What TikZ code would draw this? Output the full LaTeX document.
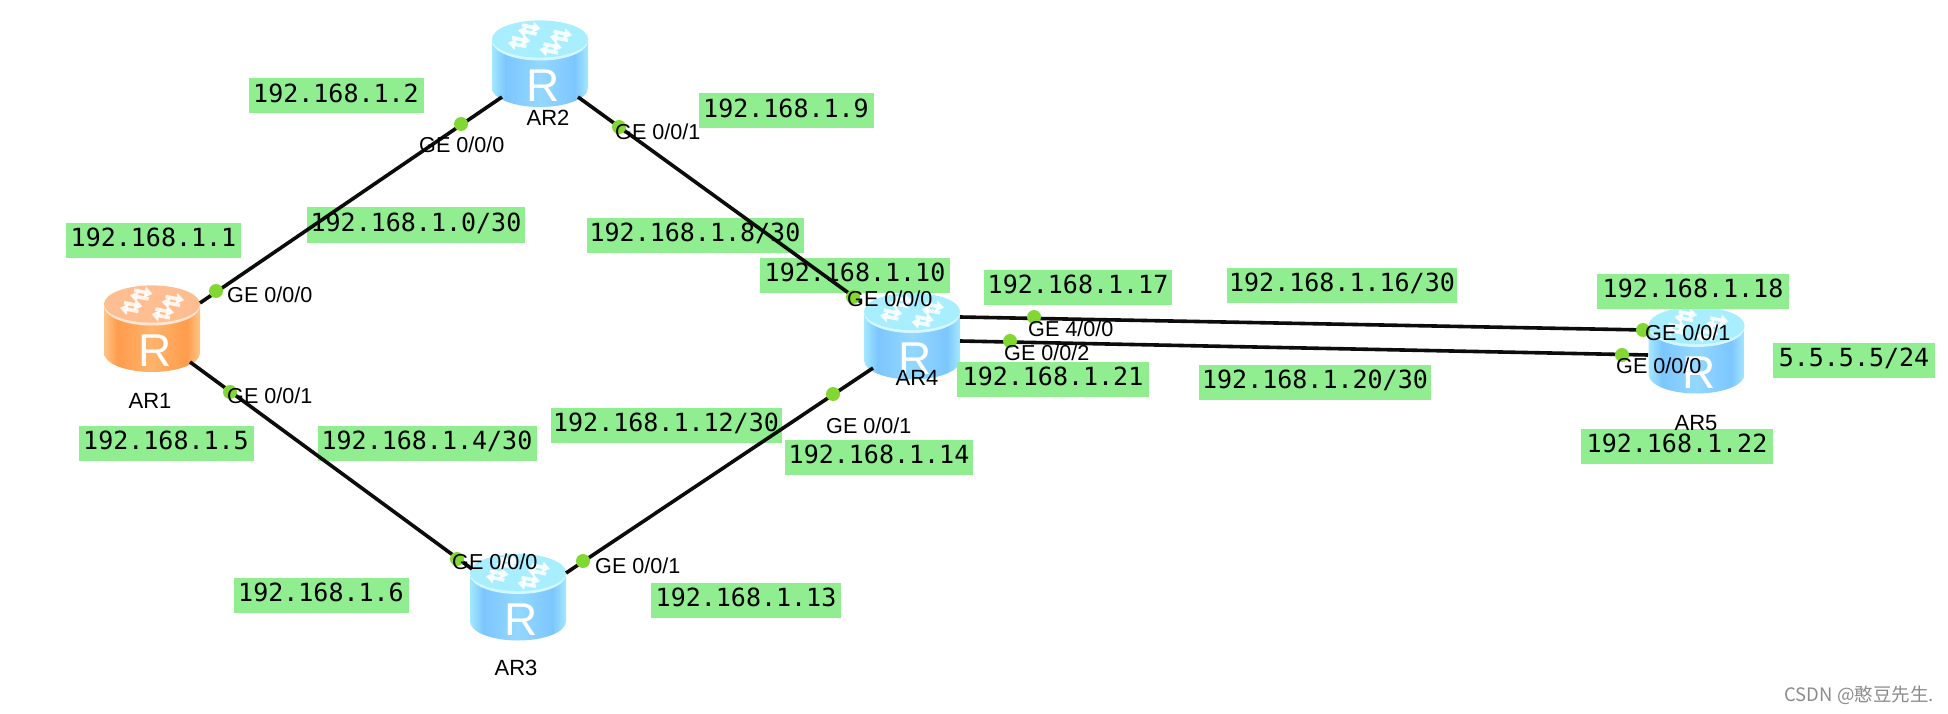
\documentclass[tikz,border=0pt]{standalone}
\usepackage{fontspec}
\usetikzlibrary{arrows.meta}
\newfontfamily\labmono{DejaVu Sans Mono}
\newfontfamily\labsans{Liberation Sans}
\newfontfamily\markfont{Noto Sans CJK SC}
\definecolor{labgreen}{HTML}{90EE90}
\definecolor{portgreen}{HTML}{82D832}
\definecolor{linkblack}{HTML}{0C0C0C}
\definecolor{bluea}{HTML}{A4E8FF}
\definecolor{blueb}{HTML}{7CC6FF}
\definecolor{bluec}{HTML}{94D8FF}
\definecolor{bluetop}{HTML}{A8EEFF}
\definecolor{bluerim}{HTML}{D4F8FF}
\definecolor{orangea}{HTML}{FFC588}
\definecolor{orangeb}{HTML}{FF9C4C}
\definecolor{orangec}{HTML}{FFB36C}
\definecolor{orangetop}{HTML}{FFBE92}
\definecolor{orangerim}{HTML}{FFE6D2}
\pgfdeclarehorizontalshading{bluebody}{100bp}{color(0bp)=(bluea); color(25bp)=(bluea); color(32bp)=(blueb); color(50bp)=(bluec); color(68bp)=(blueb); color(75bp)=(bluea); color(100bp)=(bluea)}
\pgfdeclarehorizontalshading{orangebody}{100bp}{color(0bp)=(orangea); color(25bp)=(orangea); color(32bp)=(orangeb); color(50bp)=(orangec); color(68bp)=(orangeb); color(75bp)=(orangea); color(100bp)=(orangea)}
\tikzset{
  routerbox/.style={rectangle,minimum width=96pt,minimum height=87pt,inner sep=0pt},
  lab/.style={rectangle,fill=labgreen,inner xsep=0pt,inner ysep=6.25pt,minimum width=#1,text height=17.5pt,text depth=5pt,text=black,font=\labmono\fontsize{25}{28}\selectfont},
  lab/.default=175pt,
  port/.style={circle,fill=portgreen,minimum size=14pt,inner sep=0pt},
  portname/.style={anchor=west,inner sep=0pt,text=black,font=\labsans\fontsize{21.6}{24}\selectfont},
  devname/.style={inner sep=0pt,text=black,font=\labsans\fontsize{22}{24}\selectfont},
  rletter/.style={inner sep=0pt,text=white,font=\labsans\fontsize{46}{50}\selectfont},
  link/.style={draw=linkblack,line width=3.6pt},
  glyph/.style={white,line width=3.6pt,-{Triangle[length=8pt,width=11pt]}},
}
% #1 router node, #2 colour family
\newcommand{\routerbody}[2]{%
  \begin{scope}[shift={(#1.center)}]
    \shade[shading=#2body] (-48,-24.5) -- (-48,24.5) arc[start angle=180,end angle=360,x radius=48pt,y radius=19pt] -- (48,-24.5) -- cycle;
    \fill[#2rim] (0,-22.5) ellipse[x radius=48pt,y radius=19.5pt];
    \fill[#2top] (0,-24.5) ellipse[x radius=48pt,y radius=18.6pt];
    \begin{scope}[shift={(0,-24.5)},yscale=0.5,rotate=-22,opacity=0.85]
      \draw[glyph] (-7,-8) -- (-27,-8);
      \draw[glyph] (-27,-19) -- (-7,-19);
      \draw[glyph] (7,-19) -- (27,-19);
      \draw[glyph] (27,-8) -- (7,-8);
      \draw[glyph] (-7,19) -- (-27,19);
      \draw[glyph] (-27,8) -- (-7,8);
      \draw[glyph] (7,8) -- (27,8);
      \draw[glyph] (27,19) -- (7,19);
    \end{scope}
    \node[rletter] (#1R) at (3,22.5) {R};
  \end{scope}}
\begin{document}
\begin{tikzpicture}[x=1pt,y=-1pt]
\useasboundingbox (0,0) rectangle (1948,714);
\fill[white] (0,0) rectangle (1948,714);
% routers
\node[routerbox] (r1) at (152,328.5) {};
\node[routerbox] (r2) at (540,63.5) {};
\node[routerbox] (r3) at (518,597) {};
\node[routerbox] (r4) at (912,336) {};
\node[routerbox] (r5) at (1696.5,350) {};
\routerbody{r1}{orange}
\routerbody{r2}{blue}
\routerbody{r3}{blue}
\routerbody{r4}{blue}
\routerbody{r5}{blue}
% address labels
\node[lab] (a12) at (336,96) {192.168.1.2};
\node[lab] (a11) at (153.5,240) {192.168.1.1};
\node[lab=218pt] (n10) at (416,225) {192.168.1.0/30};
\node[lab] (a19) at (786,111) {192.168.1.9};
\node[lab=217pt] (n18) at (695,235) {192.168.1.8/30};
\node[lab=190pt] (a110) at (855,275) {192.168.1.10};
\node[lab=188pt] (a117) at (1078,287) {192.168.1.17};
\node[lab=230pt] (n116) at (1342,285) {192.168.1.16/30};
\node[lab=192pt] (a118) at (1693,291) {192.168.1.18};
\node[lab=162pt] (lo5) at (1854,360) {5.5.5.5/24};
\node[lab=192pt] (a122) at (1677,446) {192.168.1.22};
\node[lab=192pt] (a121) at (1053,379) {192.168.1.21};
\node[lab=232pt] (n120) at (1315,382) {192.168.1.20/30};
\node[lab=188pt] (a114) at (879,457) {192.168.1.14};
\node[lab=231pt] (n112) at (666,425) {192.168.1.12/30};
\node[lab=219pt] (n14) at (427,443) {192.168.1.4/30};
\node[lab] (a15) at (166,443) {192.168.1.5};
\node[lab] (a16) at (321,595) {192.168.1.6};
\node[lab=190pt] (a113) at (746,600) {192.168.1.13};
% links
\draw[link] ([shift={(48,-25.5)}]r1.center) -- ([shift={(-38,33.5)}]r2.center);
\draw[link] ([shift={(38,33.5)}]r2.center) -- ([shift={(-51,-34)}]r4.center);
\draw[link] ([shift={(38,33.5)}]r1.center) -- ([shift={(-46,-28)}]r3.center);
\draw[link] ([shift={(48,-24)}]r3.center) -- ([shift={(-39,32)}]r4.center);
\draw[link] ([shift={(48,-19)}]r4.center) -- ([shift={(-51.5,-20)}]r5.center);
\draw[link] ([shift={(48,5)}]r4.center) -- ([shift={(-48.5,5)}]r5.center);
% ports
\node[port] (p1a) at (216,291) {};
\node[port] (p1b) at (230,392) {};
\node[port] (p2a) at (461,124) {};
\node[port] (p2b) at (619,127) {};
\node[port] (p3a) at (457,559) {};
\node[port] (p3b) at (583,561) {};
\node[port] (p4a) at (853,297) {};
\node[port] (p4b) at (833,394) {};
\node[port] (p4c) at (1034,317) {};
\node[port] (p4d) at (1010,341) {};
\node[port] (p5a) at (1643,330) {};
\node[port] (p5b) at (1622,355) {};
% port names
\node[portname] (t1a) at (227,295) {GE 0/0/0};
\node[portname] (t1b) at (227,396) {GE 0/0/1};
\node[portname] (t2a) at (419,145) {GE 0/0/0};
\node[portname] (t2b) at (615,132) {GE 0/0/1};
\node[portname] (t3a) at (452,562) {GE 0/0/0};
\node[portname] (t3b) at (595,566) {GE 0/0/1};
\node[portname] (t4a) at (847,299) {GE 0/0/0};
\node[portname] (t4b) at (826,426) {GE 0/0/1};
\node[portname] (t4c) at (1028,329) {GE 4/0/0};
\node[portname] (t4d) at (1004,353) {GE 0/0/2};
\node[portname] (t5a) at (1645,333) {GE 0/0/1};
\node[portname] (t5b) at (1616,366) {GE 0/0/0};
% device names
\node[devname] (d1) at (150,401) {AR1};
\node[devname] (d2) at (548,118) {AR2};
\node[devname] (d3) at (516,668) {AR3};
\node[devname] (d4) at (917,378) {AR4};
\node[devname] (d5) at (1696,423) {AR5};
\node[anchor=east,inner sep=0pt,text=black!45,font=\markfont\fontsize{18.5}{22}\selectfont] (mark) at (1934,695) {CSDN @憨豆先生.};
\end{tikzpicture}
\end{document}
